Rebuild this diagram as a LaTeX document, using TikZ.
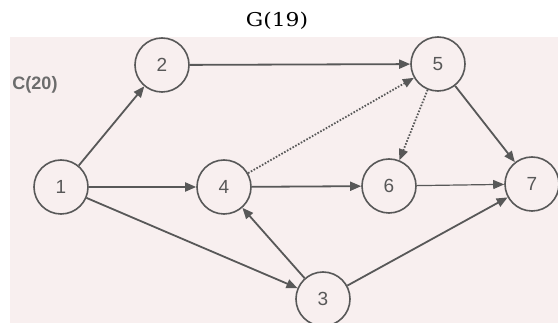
\documentclass[tikz,border=0pt]{standalone}
\usepackage{fontspec}
\setmainfont{DejaVu Serif}
\newfontfamily\tagfont{Liberation Sans}
\usetikzlibrary{arrows.meta}
\definecolor{paperpink}{RGB}{248,239,239}
\definecolor{inkgray}{RGB}{88,88,88}

\begin{document}
\begin{tikzpicture}[
    x=1pt, y=-1pt,
    event/.style={circle, draw=inkgray, line width=1.6pt, minimum size=54pt, inner sep=0pt, fill=paperpink, text=inkgray, font=\tagfont\fontsize{19}{19}\selectfont},
    arrow/.style={-{Triangle[length=11pt,width=9pt]}, line width=1.8pt, inkgray},
    dummy/.style={arrow, dash pattern=on 1.6pt off 1.6pt}
]
    % paper and margins
    \fill[white] (0,0) rectangle (558,323);
    \fill[paperpink] (10,37) rectangle (558,323);
    \useasboundingbox (0,0) rectangle (558,323);

    \node[font=\fontsize{19}{19}\selectfont, xscale=1.15] (gtag) at (277,21) {G(19)};
    \node[font=\tagfont\bfseries\fontsize{18}{18}\selectfont, text=gray!85!black] (ctag) at (35,85) {C(20)};

    \node[event] (n1) at (61,187) {1};
    \node[event] (n2) at (162,65) {2};
    \node[event] (n3) at (323,299) {3};
    \node[event] (n4) at (224,187) {4};
    \node[event] (n5) at (438,64) {5};
    \node[event] (n6) at (389,186) {6};
    \node[event] (n7) at (532,184) {7};

    \draw[arrow] (n1) -- (n2);
    \draw[arrow] (n1) -- (n4);
    \draw[arrow] (n1) -- (n3);
    \draw[arrow] (n2) -- (n5);
    \draw[arrow] (n3) -- (n4);
    \draw[arrow] (n3) -- (n7);
    \draw[arrow] (n4) -- (n6);
    \draw[dummy] (n4) -- (n5);
    \draw[dummy] (n5) -- (n6);
    \draw[arrow] (n5) -- (n7);
    \draw[arrow, line width=1.2pt] (n6) -- (n7);
\end{tikzpicture}
\end{document}
